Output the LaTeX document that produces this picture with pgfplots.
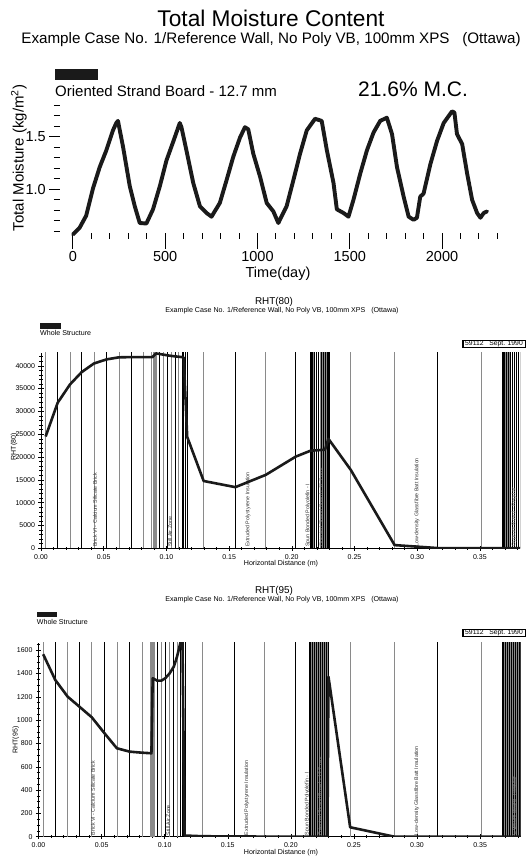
\documentclass[border=0pt]{standalone}
\usepackage{pgfplots}
\usepackage{pgfplotstable}
\pgfplotsset{compat=1.18}
\usepackage{fontspec}
\setmainfont{Liberation Sans}
\definecolor{curve}{HTML}{1A1A1A}
\definecolor{meshg}{HTML}{8A8A8A}
\newcommand{\fs}[1]{\fontsize{#1}{#1}\selectfont}
\pgfplotsset{/pgf/number format/assume math mode=true}

% mesh / layer boundary lines (x position, top beyond axis)
\pgfplotstableread{
x y
0.0037 100000
0.0231 100000
0.0422 100000
0.0621 100000
0.0820 100000
0.0883 100000
0.0892 100000
0.0901 100000
0.0910 100000
0.0919 100000
0.0973 100000
0.1040 100000
0.1098 100000
0.1297 100000
0.1793 100000
0.2159 100000
0.2175 100000
0.2192 100000
0.2208 100000
0.2225 100000
0.2241 100000
0.2257 100000
0.2274 100000
0.2290 100000
0.2470 100000
0.2820 100000
0.3510 100000
0.3691 100000
0.3707 100000
0.3723 100000
0.3739 100000
0.3755 100000
0.3771 100000
0.3787 100000
0.3803 100000
0.3819 100000
}\meshgrey
\pgfplotstableread{
x y
0.0133 100000
0.0324 100000
0.0523 100000
0.0722 100000
0.0941 100000
0.1005 100000
0.1072 100000
0.1125 100000
0.1138 100000
0.1152 100000
0.1164 100000
0.1550 100000
0.2032 100000
0.2167 100000
0.2184 100000
0.2200 100000
0.2216 100000
0.2233 100000
0.2249 100000
0.2265 100000
0.2282 100000
0.3165 100000
0.3699 100000
0.3715 100000
0.3731 100000
0.3747 100000
0.3763 100000
0.3779 100000
0.3795 100000
0.3811 100000
}\meshblack
\pgfplotstableread{
x y
0.2151 100000
0.2298 100000
0.3683 100000
0.3825 100000
}\meshedge

\pgfplotstableread{
x y
0.0037 24500
0.0133 31900
0.0231 35900
0.0324 38600
0.0422 40500
0.0523 41400
0.0621 41850
0.0722 41900
0.0820 41900
0.0888 41900
0.0918 42700
0.0973 42450
0.1040 42150
0.1125 41900
0.1138 41800
0.1166 24400
0.1297 14750
0.1550 13400
0.1793 16100
0.2032 20100
0.2151 21400
0.2265 21600
0.2292 24000
0.2470 17200
0.2820 700
0.3165 50
0.3510 0
0.3825 0
}\rhtA

\pgfplotstableread{
x y
0.0037 1566
0.0133 1345
0.0231 1202
0.0324 1116
0.0422 1025
0.0523 888
0.0621 759
0.0722 730
0.0820 721
0.0895 716
0.0905 1360
0.0941 1339
0.0973 1339
0.1005 1360
0.1040 1403
0.1072 1459
0.1098 1545
0.1125 1665
0.1140 1760
0.1158 10
0.1297 4
0.1550 2
0.1793 1
0.2032 0
0.2151 0
0.2290 0
0.2298 1373
0.2470 81
0.2820 0
0.3165 0
0.3510 0
0.3825 0
}\rhtB

\pgfplotsset{
  meshstyle/.style={
    at={(#1)}, anchor=south west, scale only axis,
    xmin=0, xmax=0.382,
    axis x line*=bottom, axis y line*=left,
    axis line style={line width=0.6pt},
    xtick={0,0.05,0.10,0.15,0.20,0.25,0.30,0.35},
    minor xtick={0.01,0.02,0.03,0.04,0.06,0.07,0.08,0.09,0.11,0.12,0.13,0.14,0.16,0.17,0.18,0.19,0.21,0.22,0.23,0.24,0.26,0.27,0.28,0.29,0.31,0.32,0.33,0.34,0.36,0.37,0.38},
    tick align=center, major tick length=5pt, minor tick length=3pt,
    tick style={black, line width=0.5pt},
    ticklabel style={font=\fs{7}},
    xticklabel style={/pgf/number format/.cd, fixed, fixed zerofill, precision=2},
    yticklabel style={/pgf/number format/.cd, set thousands separator={}},
    scaled x ticks=false, scaled y ticks=false,
  },
}
\tikzset{matlabel/.style={rotate=90, anchor=west, inner sep=0pt, font=\fs{5.3}, text=black!80}}

\begin{document}
\begin{tikzpicture}
\useasboundingbox (0pt,0pt) rectangle (526pt,857pt);

% ---------------- Panel 1 ----------------
\node[anchor=base, font=\fs{22.7}, inner sep=0pt] at (271pt,830.5pt) {Total Moisture Content};
\node[anchor=base, font=\fs{15.2}, inner sep=0pt] at (271pt,813.8pt) {Example Case No. 1/Reference Wall, No Poly VB, 100mm XPS\ \ \ (Ottawa)};
\fill[curve] (54.5pt,788pt) rectangle (98pt,777pt);
\node[anchor=base west, font=\fs{15}, inner sep=0pt] at (55pt,760.3pt) {Oriented Strand Board - 12.7 mm};
\node[anchor=base west, font=\fs{21}, inner sep=0pt] at (358pt,760.3pt) {21.6\% M.C.};
\node[rotate=90, font=\fs{15}, inner sep=0pt] at (19pt,699pt) {Total Moisture (kg/m\textsuperscript{2})};
\node[font=\fs{14.5}, inner sep=0pt] at (278pt,583pt) {Time(day)};

\begin{axis}[
  at={(60pt,624pt)}, anchor=south west, scale only axis,
  width=437.4pt, height=127.9pt,
  xmin=-70, xmax=2300, ymin=0.585, ymax=1.8,
  axis x line*=bottom, axis y line*=left,
  axis line style={draw=none},
  xtick={0,500,1000,1500,2000},
  minor xtick={100,200,300,400,600,700,800,900,1100,1200,1300,1400,1600,1700,1800,1900,2100,2200,2300},
  ytick={1.0,1.5},
  minor ytick={0.6,0.7,0.8,0.9,1.1,1.2,1.3,1.4,1.6,1.7,1.8},
  tick align=outside,
  major tick length=10.7pt, minor tick length=6pt,
  xtick style={/pgfplots/major tick length=16pt},
  tick style={black, line width=0.9pt},
  ticklabel style={font=\fs{14.5}},
  xticklabel style={yshift=-4pt, /pgf/number format/.cd, set thousands separator={}},
  yticklabel style={/pgf/number format/.cd, fixed, fixed zerofill, precision=1},
  clip=false,
]
\addplot[curve, line width=3.9pt, line join=round, line cap=round, mark=none] coordinates {
(0,0.572) (36,0.634) (72,0.75) (109,1.01) (145,1.21) (181,1.37) (217,1.56) (235,1.63) (244,1.65)
(272,1.40) (308,1.03) (335,0.84) (362,0.68) (398,0.675) (434,0.81) (471,1.03) (507,1.275)
(543,1.45) (579,1.63) (588,1.59) (615,1.37) (652,1.06) (688,0.84) (724,0.775) (751,0.74)
(796,0.87) (833,1.09) (869,1.31) (905,1.49) (932,1.59) (950,1.57) (977,1.34) (1014,1.12)
(1050,0.87) (1086,0.79) (1113,0.68) (1158,0.84) (1195,1.09) (1231,1.34) (1267,1.56)
(1312,1.67) (1348,1.65) (1376,1.37) (1412,1.06) (1430,0.81) (1466,0.775) (1493,0.74)
(1520,0.90) (1557,1.15) (1593,1.37) (1629,1.54) (1665,1.65) (1701,1.68) (1729,1.525)
(1756,1.21) (1792,0.93) (1819,0.74) (1846,0.71) (1864,0.73) (1882,0.93) (1900,0.96)
(1937,1.24) (1973,1.46) (2009,1.63) (2054,1.74) (2067,1.73) (2081,1.525) (2109,1.43)
(2136,1.15) (2163,0.90) (2190,0.775) (2208,0.73) (2226,0.775) (2244,0.79)
};
\end{axis}

% ---------------- Panel 2 ----------------
\node[anchor=base, font=\fs{9.9}, inner sep=0pt] at (274pt,552pt) {RHT(80)};
\node[anchor=base, font=\fs{7.1}, inner sep=0pt] at (282pt,544.5pt) {Example Case No. 1/Reference Wall, No Poly VB, 100mm XPS\ \ \ (Ottawa)};
\fill[curve] (40pt,533.7pt) rectangle (60.7pt,527.7pt);
\node[anchor=base west, font=\fs{7.1}, inner sep=0pt] at (40pt,521.5pt) {Whole Structure};
\draw[line width=0.5pt] (462pt,509.7pt) rectangle (525.5pt,516.3pt);
\fill (462pt,509.7pt) rectangle (463.8pt,516.3pt);
\node[anchor=west, font=\fs{6.8}, inner sep=0pt] at (465pt,513pt) {59112\ \ \ Sept. 1990};
\node[rotate=90, font=\fs{7}, inner sep=0pt] at (14pt,410.3pt) {RHT(80)};
\node[anchor=base, font=\fs{7.1}, inner sep=0pt] at (281pt,291pt) {Horizontal Distance (m)};

\begin{axis}[
  meshstyle={41pt,308.7pt},
  width=479pt, height=195.3pt,
  ymin=0, ymax=42800,
  ytick={0,5000,10000,15000,20000,25000,30000,35000,40000},
  minor ytick={1000,2000,3000,4000,6000,7000,8000,9000,11000,12000,13000,14000,16000,17000,18000,19000,21000,22000,23000,24000,26000,27000,28000,29000,31000,32000,33000,34000,36000,37000,38000,39000,41000,42000},
]
\addplot[ycomb, meshg, line width=0.7pt, mark=none] table {\meshgrey};
\addplot[ycomb, black, line width=0.75pt, mark=none] table {\meshblack};
\addplot[ycomb, black, line width=1.6pt, mark=none] table {\meshedge};
\node[matlabel] at (axis cs:0.0431,300) {Brick VI - Calcium Silicate Brick};
\node[matlabel] at (axis cs:0.1029,300) {Still Air Zone};
\node[matlabel] at (axis cs:0.1651,300) {Extruded Polystyrene Insulation};
\node[matlabel] at (axis cs:0.2129,300) {Spun Bonded Polyolefin - I};
\node[matlabel, text=black!45] at (axis cs:0.2233,300) {Oriented Strand Board - 12.7 mm};
\node[matlabel] at (axis cs:0.2998,300) {Low-density Glassfibre Batt Insulation};
\node[matlabel, text=black!45] at (axis cs:0.3772,300) {Gypsum Board - Regular};
\addplot[curve, line width=2.6pt, line join=round, mark=none] table {\rhtA};
\end{axis}

% ---------------- Panel 3 ----------------
\node[anchor=base, font=\fs{9.9}, inner sep=0pt] at (274pt,263.7pt) {RHT(95)};
\node[anchor=base, font=\fs{7.1}, inner sep=0pt] at (282pt,255.5pt) {Example Case No. 1/Reference Wall, No Poly VB, 100mm XPS\ \ \ (Ottawa)};
\fill[curve] (36.7pt,244.7pt) rectangle (57.3pt,239.7pt);
\node[anchor=base west, font=\fs{7.1}, inner sep=0pt] at (36.7pt,232pt) {Whole Structure};
\draw[line width=0.5pt] (462pt,221pt) rectangle (525.5pt,228pt);
\fill (462pt,221pt) rectangle (463.8pt,228pt);
\node[anchor=west, font=\fs{6.8}, inner sep=0pt] at (465pt,224.5pt) {59112\ \ \ Sept. 1990};
\node[rotate=90, font=\fs{7}, inner sep=0pt] at (15.8pt,117pt) {RHT(95)};
\node[anchor=base, font=\fs{7.1}, inner sep=0pt] at (281pt,2pt) {Horizontal Distance (m)};

\begin{axis}[
  meshstyle={38.5pt,20.3pt},
  width=482pt, height=194pt,
  ymin=0, ymax=1665,
  ytick={0,200,400,600,800,1000,1200,1400,1600},
  minor ytick={50,100,150,250,300,350,450,500,550,650,700,750,850,900,950,1050,1100,1150,1250,1300,1350,1450,1500,1550,1650},
]
\addplot[ycomb, meshg, line width=0.7pt, mark=none] table {\meshgrey};
\addplot[ycomb, black, line width=0.75pt, mark=none] table {\meshblack};
\addplot[ycomb, black, line width=1.6pt, mark=none] table {\meshedge};
\node[matlabel] at (axis cs:0.0431,12) {Brick VI - Calcium Silicate Brick};
\node[matlabel] at (axis cs:0.1029,12) {Still Air Zone};
\node[matlabel] at (axis cs:0.1651,12) {Extruded Polystyrene Insulation};
\node[matlabel] at (axis cs:0.2129,12) {Spun Bonded Polyolefin - I};
\node[matlabel, text=black!45] at (axis cs:0.2233,12) {Oriented Strand Board - 12.7 mm};
\node[matlabel] at (axis cs:0.2998,12) {Low-density Glassfibre Batt Insulation};
\node[matlabel, text=black!45] at (axis cs:0.3772,12) {Gypsum Board - Regular};
\addplot[curve, line width=2.6pt, line join=round, mark=none] table {\rhtB};
\end{axis}
\end{tikzpicture}
\end{document}
